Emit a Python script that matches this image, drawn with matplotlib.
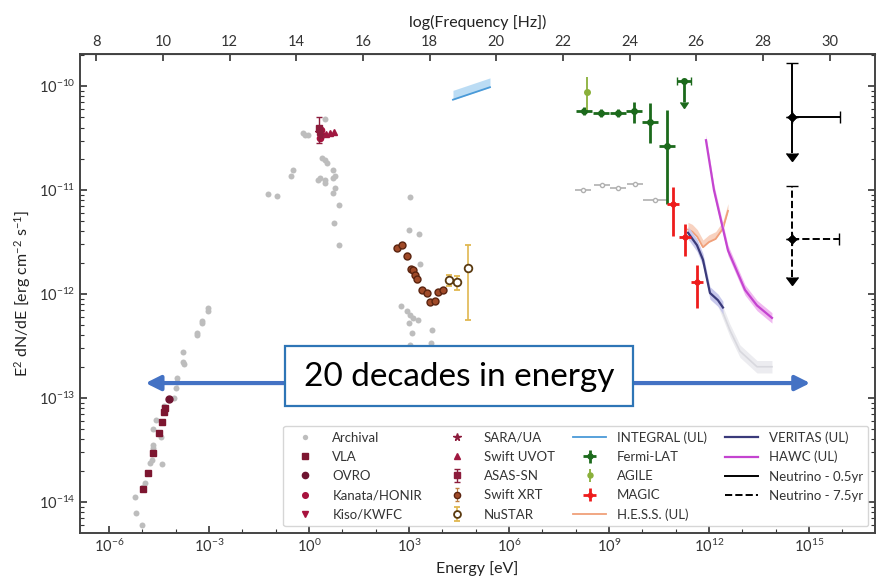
import numpy as np
import matplotlib
matplotlib.use("Agg")
import matplotlib.pyplot as plt
from matplotlib.lines import Line2D
from matplotlib.patches import Rectangle
from matplotlib.ticker import LogFormatterMathtext, NullLocator, LogLocator, FuncFormatter, NullFormatter

plt.rcParams['font.family'] = ['Lato', 'DejaVu Sans']
plt.rcParams['mathtext.fontset'] = 'custom'
plt.rcParams['mathtext.rm'] = 'Lato'
plt.rcParams['mathtext.it'] = 'Lato:italic'
plt.rcParams['mathtext.bf'] = 'Lato:bold'

# all values are log10(E / eV) and log10(E^2 dN/dE / erg cm^-2 s^-1)
arch_logE = [-5.22, -5.19, -5.01, -4.92, -4.98, -4.71, -4.77, -4.68, -4.68, -4.41, -4.59, -4.68,
             -4.44, -4.35, -4.05, -3.96, -3.96, -3.99, -3.78, -3.78, -3.75, -3.36, -3.36, -3.21,
             -3.21, -3.03, -3.03,
             -1.23, -0.96, -0.54, -0.48, -0.18, -0.12, -0.03, 0.48, 0.39, 0.48, 0.54, 0.72, 0.78,
             0.72, 0.33, 0.27, 0.48, 0.48, 0.78, 0.72, 0.90, 0.75, 0.90,
             3.03, 3.00, 3.30, 3.33, 2.76, 2.94, 3.03, 3.12, 3.27, 3.00, 3.09, 3.69, 3.66, 3.03]
arch_logF = [-13.95, -14.11, -14.22, -13.82, -13.86, -13.60, -13.63, -13.45, -13.48, -13.64, -13.21, -13.30,
             -13.38, -13.08, -13.00, -12.81, -12.85, -12.90, -12.56, -12.65, -12.67, -12.38, -12.39, -12.26,
             -12.28, -12.13, -12.16,
             -11.04, -11.06, -10.86, -10.81, -10.45, -10.47, -10.47, -10.32, -10.69, -10.71, -10.74, -10.81, -10.86,
             -10.88, -10.88, -10.90, -10.90, -10.93, -10.98, -11.03, -11.14, -11.32, -11.53,
             -11.07, -11.38, -11.42, -11.71, -12.12, -12.16, -12.20, -12.23, -12.25, -12.28, -12.38, -12.35, -12.47, -12.49]

# archival gamma-ray points with energy bins
archg_logE = [8.22, 8.79, 9.27, 9.78, 10.38]
archg_logF = [-11.00, -10.95, -10.98, -10.94, -11.10]
archg_half = [0.25, 0.25, 0.25, 0.25, 0.36]

vla_logE = [-4.98, -4.83, -4.68, -4.50, -4.41, -4.35, -4.32]
vla_logF = [-13.88, -13.72, -13.53, -13.34, -13.23, -13.14, -13.10]
ovro_logE = [-4.20]
ovro_logF = [-13.01]

kanata_logE = [0.33, 0.37]
kanata_logF = [-10.50, -10.42]
kiso_logE = [0.40]
kiso_logF = [-10.48]
sara_logE = [0.31, 0.35]
sara_logF = [-10.44, -10.47]
uvot_logE = [0.50, 0.63, 0.76]
uvot_logF = [-10.46, -10.45, -10.44]
asas_logE = [0.31]
asas_logF = [-10.40]
asas_lo = [-10.55]
asas_hi = [-10.30]

xrt_logE = [2.63, 2.80, 2.94, 3.06, 3.12, 3.18, 3.24, 3.39, 3.54, 3.63, 3.78, 3.87, 4.02]
xrt_logF = [-11.56, -11.53, -11.63, -11.76, -11.77, -11.82, -11.86, -11.96, -11.99, -12.08, -12.07, -11.98, -11.96]

nustar_logE = [4.20, 4.44, 4.77]
nustar_logF = [-11.87, -11.88, -11.75]
nustar_lo = [-11.92, -11.96, -12.25]
nustar_hi = [-11.82, -11.83, -11.53]

integral_logE = [4.32, 5.43]
integral_logF = [-10.13, -10.01]

fermi_logE = [8.25, 8.76, 9.27, 9.75, 10.23, 10.74]
fermi_logF = [-10.24, -10.26, -10.26, -10.24, -10.34, -10.58]
fermi_lo = [-10.28, -10.30, -10.30, -10.35, -10.55, -11.13]
fermi_hi = [-10.20, -10.22, -10.22, -10.15, -10.16, -10.23]
fermi_ul_logE = [11.25]
fermi_ul_logF = [-9.95]
fermi_ul_end = [-10.15]

agile_logE = [8.34]
agile_logF = [-10.06]
agile_lo = [-10.23]
agile_hi = [-9.91]

magic_logE = [10.92, 11.28, 11.64]
magic_logF = [-11.13, -11.45, -11.88]
magic_lo = [-11.44, -11.63, -12.13]
magic_hi = [-10.97, -11.33, -11.72]

hess_logE = [11.37, 11.50, 11.65, 11.82, 12.00, 12.20, 12.42, 12.57]
hess_logF = [-11.38, -11.40, -11.45, -11.55, -11.50, -11.47, -11.37, -11.20]

veritas_logE = [11.37, 11.64, 11.82, 12.03, 12.27, 12.42]
veritas_logF = [-11.41, -11.53, -11.67, -11.99, -12.06, -12.13]

sens_logE = [12.27, 12.63, 12.93, 13.44, 13.89]
sens_logF = [-12.06, -12.35, -12.55, -12.70, -12.70]

hawc_logE = [11.91, 12.15, 12.57, 13.08, 13.44, 13.89]
hawc_logF = [-10.52, -11.00, -11.58, -11.96, -12.11, -12.23]

nu05_logE, nu05_logF, nu05_right, nu05_top, nu05_end = 14.49, -10.30, 15.93, -9.78, -10.64
nu75_logE, nu75_logF, nu75_right, nu75_top, nu75_end = 14.49, -11.47, 15.90, -10.96, -11.84

freq_ticks = list(range(8, 31, 2))


def p(a):
    return 10.0 ** np.asarray(a, dtype=float)


def yerr(f, lo, hi):
    return [p(f) - p(lo), p(hi) - p(f)]


fig = plt.figure(figsize=(8.79, 5.83), dpi=100)
ax = fig.add_axes([0.0910, 0.0858, 0.9044, 0.8216])
ax.set_xscale('log')
ax.set_yscale('log')

grey = '#bdbdbd'
ax.plot(p(arch_logE), p(arch_logF), 'o', color=grey, ms=4.3, mec='none', label='Archival', zorder=2)
archg_E = p(archg_logE)
ax.errorbar(archg_E, p(archg_logF),
            xerr=[archg_E - p(np.array(archg_logE) - archg_half), p(np.array(archg_logE) + archg_half) - archg_E],
            fmt='o', ms=3, color='#b0b0b0', mfc='white', lw=1.2, zorder=2)

ax.plot(p(vla_logE), p(vla_logF), 's', color='#7d1630', ms=5, label='VLA', zorder=4)
ax.plot(p(ovro_logE), p(ovro_logF), 'o', color='#6e1430', ms=5, label='OVRO', zorder=4)
ax.plot(p(kanata_logE), p(kanata_logF), 'o', color='#a8123e', ms=4.5, label='Kanata/HONIR', zorder=4)
ax.plot(p(kiso_logE), p(kiso_logF), 'v', color='#a8123e', ms=4.5, label='Kiso/KWFC', zorder=4)
ax.plot(p(sara_logE), p(sara_logF), '*', color='#8c1c3c', ms=6, label='SARA/UA', zorder=4)
ax.plot(p(uvot_logE), p(uvot_logF), '^', color='#a01840', ms=4.5, label='Swift UVOT', zorder=4)
ax.errorbar(p(asas_logE), p(asas_logF), yerr=yerr(asas_logF, asas_lo, asas_hi), fmt='s', color='#8c1c3c',
            ms=4.5, capsize=2, lw=1, label='ASAS-SN', zorder=4)

ax.errorbar(p(xrt_logE), p(xrt_logF), yerr=yerr(xrt_logF, np.array(xrt_logF) - 0.02, np.array(xrt_logF) + 0.02),
            fmt='o', color='#a04a28', mec='#5a2410', mew=1.0, ms=5, lw=0.8, capsize=1.5, ecolor='#c08040',
            label='Swift XRT', zorder=4)
ax.errorbar(p(nustar_logE), p(nustar_logF), yerr=yerr(nustar_logF, nustar_lo, nustar_hi), fmt='o',
            mfc='white', mec='#5a3a10', mew=1.3, ms=5.5, color='#e0b850', lw=1.2, capsize=2,
            label='NuSTAR', zorder=4)

integral_E = p(integral_logE)
ax.fill_between(integral_E, p(integral_logF), p(np.array(integral_logF) + 0.09), color='#aad4f2', alpha=0.8,
                lw=0, zorder=3)
ax.plot(integral_E, p(integral_logF), color='#4a9ad8', lw=1.3, label='INTEGRAL (UL)', zorder=3)

fermi_E = p(fermi_logE)
ax.errorbar(fermi_E, p(fermi_logF), yerr=yerr(fermi_logF, fermi_lo, fermi_hi),
            xerr=[fermi_E - p(np.array(fermi_logE) - 0.25), p(np.array(fermi_logE) + 0.25) - fermi_E],
            fmt='o', color='#1c6a1c', ms=4, lw=2, label='Fermi-LAT', zorder=5)
ful_E = p(fermi_ul_logE)
ax.errorbar(ful_E, p(fermi_ul_logF), yerr=p(fermi_ul_logF) - p(fermi_ul_end), uplims=True,
            xerr=[ful_E - p(np.array(fermi_ul_logE) - 0.22), p(np.array(fermi_ul_logE) + 0.22) - ful_E],
            fmt='o', color='#1c6a1c', ms=4, lw=2, capsize=3, zorder=5)
ax.errorbar(p(agile_logE), p(agile_logF), yerr=yerr(agile_logF, agile_lo, agile_hi), fmt='o',
            color='#8ab03a', ms=4, lw=1.3, label='AGILE', zorder=6)

magic_E = p(magic_logE)
ax.errorbar(magic_E, p(magic_logF), yerr=yerr(magic_logF, magic_lo, magic_hi),
            xerr=[magic_E - p(np.array(magic_logE) - 0.18), p(np.array(magic_logE) + 0.18) - magic_E],
            fmt='o', color='#ee1c1c', ms=3.5, lw=2, label='MAGIC', zorder=6)

hess_E = p(hess_logE)
ax.fill_between(hess_E, p(hess_logF), p(np.array(hess_logF) + 0.07), color='#f8d2c0', lw=0, zorder=3)
ax.plot(hess_E, p(hess_logF), color='#f0a07a', lw=1.3, label='H.E.S.S. (UL)', zorder=3)

sens_E = p(sens_logE)
ax.fill_between(sens_E, p(np.array(sens_logF) - 0.06), p(np.array(sens_logF) + 0.06), color='#ececf0', lw=0,
                zorder=3)
ax.plot(sens_E, p(sens_logF), color='#d8d8de', lw=1.2, zorder=3)

veritas_E = p(veritas_logE)
ax.fill_between(veritas_E, p(np.array(veritas_logF) - 0.06), p(np.array(veritas_logF) + 0.06), color='#c8c8ec',
                lw=0, zorder=3)
ax.plot(veritas_E, p(veritas_logF), color='#3a3a7a', lw=1.6, label='VERITAS (UL)', zorder=3)

hawc_E = p(hawc_logE)
ax.fill_between(hawc_E, p(np.array(hawc_logF) - 0.05), p(np.array(hawc_logF) + 0.05), color='#f0b8f0', lw=0,
                zorder=3)
ax.plot(hawc_E, p(hawc_logF), color='#c444d0', lw=1.6, label='HAWC (UL)', zorder=3)

# neutrino upper limits
for lE, lF, right, top, end, ls in [(nu05_logE, nu05_logF, nu05_right, nu05_top, nu05_end, '-'),
                                     (nu75_logE, nu75_logF, nu75_right, nu75_top, nu75_end, '--')]:
    E, F = 10.0 ** lE, 10.0 ** lF
    e1 = ax.errorbar([E], [F], yerr=[[0], [10.0 ** top - F]], xerr=[[0], [10.0 ** right - E]], fmt='D',
                     color='black', ms=4, lw=1.4, capsize=4, zorder=6)
    e2 = ax.errorbar([E], [F], yerr=[[F - 10.0 ** end]], uplims=True, fmt='D', color='black', ms=4, lw=1.4,
                     capsize=4, zorder=6)
    for c in list(e1[2]) + list(e2[2]):
        c.set_linestyle(ls)

ax.set_xlim(10 ** -6.87, 10 ** 16.98)
ax.set_ylim(10 ** -14.30, 10 ** -9.69)
ax.set_xticks([10.0 ** k for k in range(-6, 16, 3)])
ax.set_xticks([10.0 ** k for k in range(-6, 17) if k % 3 != 0], minor=True)
ax.xaxis.set_major_formatter(LogFormatterMathtext())
ax.xaxis.set_minor_formatter(NullFormatter())
ax.set_yticks([10.0 ** k for k in range(-14, -9)])
ax.yaxis.set_minor_locator(LogLocator(base=10, subs=np.arange(2, 10), numticks=20))
ax.yaxis.set_major_formatter(LogFormatterMathtext())
ax.yaxis.set_minor_formatter(NullFormatter())
ax.set_ylim(10 ** -14.30, 10 ** -9.69)
ax.tick_params(which='both', direction='in', right=True, top=False, labelsize=10.5, colors='#333333')
ax.tick_params(which='major', length=5, width=1.2)
ax.tick_params(which='minor', length=3, width=0.8)
for s in ax.spines.values():
    s.set_color('#444444')
    s.set_linewidth(1.4)

sec = ax.secondary_xaxis('top', functions=(lambda e: np.log10(np.clip(e, 1e-300, None)) + 14.383,
                                            lambda f: 10.0 ** (np.asarray(f, dtype=float) - 14.383)))
sec.set_xticks(freq_ticks)
sec.xaxis.set_major_formatter(FuncFormatter(lambda v, pos: f'{v:.0f}'))
sec.xaxis.set_minor_locator(NullLocator())
sec.xaxis.set_minor_formatter(NullFormatter())
sec.tick_params(direction='in', length=5, width=1.2, labelsize=10.5, colors='#333333')
sec.set_xlabel('log(Frequency [Hz])', fontsize=11.5, color='#222222', labelpad=6)

ax.set_xlabel('Energy [eV]', fontsize=11.5, color='#222222', labelpad=4)
ax.set_ylabel('E$^2$ dN/dE [erg cm$^{-2}$ s$^{-1}$]', fontsize=11.5, color='#222222', labelpad=4)

# legend
order = ['Archival', 'VLA', 'OVRO', 'Kanata/HONIR', 'Kiso/KWFC', 'SARA/UA', 'Swift UVOT', 'ASAS-SN', 'Swift XRT',
         'NuSTAR', 'INTEGRAL (UL)', 'Fermi-LAT', 'AGILE', 'MAGIC', 'H.E.S.S. (UL)', 'VERITAS (UL)', 'HAWC (UL)']
hs, ls_ = ax.get_legend_handles_labels()
lookup = dict(zip(ls_, hs))
handles = [lookup[k] for k in order]
labels = list(order)
handles += [Line2D([], [], color='black', lw=1.4), Line2D([], [], color='black', lw=1.4, ls='--')]
labels += ['Neutrino - 0.5yr', 'Neutrino - 7.5yr']
leg = ax.legend(handles, labels, ncol=4, loc='lower right', fontsize=9.5, frameon=True, edgecolor='#cccccc',
                handlelength=2.5, columnspacing=1.4, labelspacing=0.55, borderaxespad=0.5, markerscale=0.9)
for t in leg.get_texts():
    t.set_color('#333333')

# annotation: 20 decades arrow and box
ax.annotate('', xy=(0.079, 0.313), xytext=(0.922, 0.313), xycoords='axes fraction',
            arrowprops=dict(arrowstyle='<|-|>', color='#4472c4', lw=3, mutation_scale=22), zorder=7)
ax.add_patch(Rectangle((0.258, 0.265), 0.438, 0.125, transform=ax.transAxes, facecolor='white',
                       edgecolor='#2e75b6', lw=1.6, zorder=8))
ax.text(0.477, 0.325, '20 decades in energy', transform=ax.transAxes, ha='center', va='center',
        fontsize=24, color='black', zorder=9)

fig.savefig('out.png', dpi=100)
